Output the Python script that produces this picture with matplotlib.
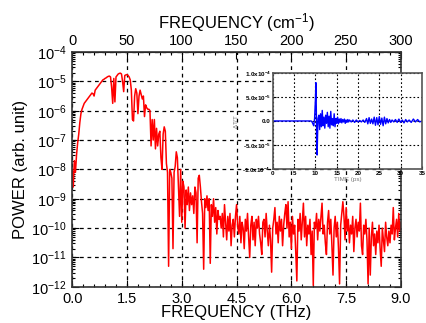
import numpy as np
import matplotlib
matplotlib.use("Agg")
import matplotlib.pyplot as plt
from matplotlib.ticker import MultipleLocator, LogLocator, NullFormatter, FixedLocator

plt.rcParams['font.family'] = ['Liberation Sans', 'DejaVu Sans']
plt.rcParams['mathtext.default'] = 'regular'

# power spectrum, log10 of power, sampled every 0.03 THz from 0 to 9 THz
freq_step = 0.03
log_power = [
    -8.0, -8.6, -7.7, -8.1, -7.5, -7.1, -6.8, -6.4, -6.1, -5.95,
    -5.85, -5.75, -5.7, -5.65, -5.6, -5.55, -5.5, -5.45, -5.4, -5.42,
    -5.5, -5.3, -5.25, -5.2, -5.15, -5.1, -5.05, -5.0, -4.95, -4.93,
    -4.9, -4.88, -4.85, -4.83, -4.82, -4.85, -5.2, -5.75, -4.9, -5.7,
    -4.85, -4.8, -4.75, -4.73, -4.72, -4.75, -5.0, -5.35, -4.8, -4.78,
    -4.77, -4.8, -4.85, -4.95, -5.3, -6.3, -6.35, -5.5, -5.25, -5.4,
    -6.1, -5.5, -5.3, -5.45, -5.6, -5.5, -6.2, -5.8, -5.9, -5.95,
    -5.95, -6.0, -7.2, -6.3, -7.0, -6.3, -7.3, -6.6, -7.2, -6.8,
    -6.7, -7.6, -8.0, -6.8, -6.55, -6.7, -7.8, -8.1, -11.3, -8.0,
    -8.1, -8.3, -10.7, -8.1, -7.9, -7.4, -7.6, -8.6, -9.6, -8.0,
    -9.8, -8.4, -8.6, -10.0, -8.7, -9.2, -8.6, -9.4, -8.8, -9.2,
    -8.9, -9.5, -8.6, -8.8, -10.5, -8.3, -8.2, -8.6, -9.1, -9.5,
    -11.4, -9.0, -9.3, -8.9, -9.4, -9.0, -11.2, -9.2, -9.6, -9.0,
    -9.8, -9.3, -10.2, -9.4, -9.7, -9.6, -10.0, -9.5, -10.3, -9.2,
    -9.8, -10.4, -9.6, -10.1, -9.5, -10.6, -9.9, -9.7, -10.3, -9.6,
    -9.2, -9.9, -10.2, -9.6, -10.5, -9.8, -10.0, -10.7, -9.7, -10.1,
    -9.5, -10.3, -11.0, -9.9, -9.6, -10.4, -9.8, -10.6, -9.7, -10.0,
    -9.6, -10.2, -10.5, -10.9, -9.8, -9.7, -10.3, -9.5, -10.1, -10.6,
    -9.9, -10.4, -11.5, -10.0, -9.7, -9.3, -10.2, -9.8, -10.5, -9.6,
    -10.1, -9.7, -10.6, -9.9, -9.5, -9.2, -10.0, -9.1, -10.3, -9.8,
    -10.7, -9.6, -10.2, -9.9, -10.8, -11.8, -9.7, -10.1, -9.5, -10.4,
    -9.8, -9.15, -10.3, -9.6, -10.6, -9.9, -10.2, -9.7, -10.9, -10.1,
    -11.95, -9.8, -10.0, -9.5, -10.4, -9.7, -10.1, -9.6, -9.15, -10.2,
    -9.9, -10.5, -10.9, -9.8, -9.4, -10.2, -9.7, -10.6, -11.6, -10.0,
    -9.6, -10.3, -9.8, -10.7, -11.9, -9.9, -9.5, -9.1, -9.6, -10.4,
    -9.3, -10.1, -9.7, -10.5, -9.9, -10.2, -9.6, -10.8, -10.0, -9.7,
    -10.3, -9.8, -10.1, -9.15, -10.6, -10.9, -9.9, -10.2, -9.7, -10.4,
    -11.9, -10.0, -11.6, -10.3, -9.8, -10.6, -10.2, -10.9, -10.1, -10.5,
    -9.9, -10.7, -11.3, -10.0, -10.4, -10.8, -9.8, -10.3, -10.6, -10.1,
    -10.5, -9.9, -10.2, -9.3, -10.4, -10.0, -9.7, -10.3, -9.5, -10.1,
    -9.8,
]

# time-domain trace for the inset (ps, dT/T in units of 1e-4)
time_ps = [0.0, 8.8, 9.0, 9.2, 9.4, 9.6, 9.8, 10.0, 10.1, 10.2, 10.3, 10.4, 10.5,
           10.6, 10.8, 11.0, 11.2, 11.4, 11.6, 11.8, 12.0, 12.2, 12.4, 12.6, 12.8,
           13.0, 13.2, 13.4, 13.6, 13.8, 14.0, 14.2, 14.4, 14.6, 14.8, 15.0, 15.2,
           15.4, 15.6, 15.8, 16.0, 16.2, 16.4, 16.6, 16.8, 17.0, 17.2, 17.4, 17.6,
           17.8, 18.0, 18.4, 18.8, 19.2, 19.6, 20.0, 20.4, 20.8, 21.2, 21.6, 22.0,
           22.3, 22.6, 22.9, 23.2, 23.5, 23.8, 24.1, 24.4, 24.7, 25.0, 25.3, 25.6,
           25.9, 26.2, 26.5, 26.8, 27.1, 27.4, 27.7, 28.0, 28.4, 28.8, 29.2, 29.6,
           30.0, 30.4, 30.8, 31.2, 31.6, 32.0, 32.5, 33.0, 33.5, 34.0, 34.5, 35.0]
dT = [0.0, 0.0, 0.0, -0.02, -0.06, -0.1, 0.05, 0.45, 0.80, 0.3, -0.4, -0.71, -0.3,
      0.05, 0.12, -0.18, 0.15, -0.12, 0.22, -0.1, 0.08, -0.15, 0.12, -0.05, 0.18,
      -0.12, 0.1, -0.15, 0.2, -0.08, 0.05, -0.1, 0.15, -0.12, 0.05, -0.05, 0.08,
      -0.06, 0.04, -0.03, 0.05, -0.04, 0.03, -0.02, 0.04, -0.05, 0.02, -0.03, 0.03,
      -0.02, 0.02, -0.02, 0.02, -0.03, 0.02, -0.02, 0.01, -0.02, 0.02, -0.03, 0.05,
      -0.06, 0.07, -0.05, 0.04, -0.06, 0.08, -0.09, 0.07, -0.08, 0.09, -0.07, 0.06,
      -0.1, 0.08, -0.06, 0.05, -0.04, 0.03, -0.03, 0.02, -0.02, 0.03, -0.03, 0.04,
      -0.03, 0.02, -0.04, 0.03, -0.02, 0.02, -0.03, 0.04, -0.02, 0.03, -0.02, 0.0]

power_ticks = [1e-12, 1e-11, 1e-10, 1e-9, 1e-8, 1e-7, 1e-6, 1e-5, 1e-4]
power_ticklabels = [r'10$^{-12}$', r'10$^{-11}$', r'10$^{-10}$', r'10$^{-9}$',
                    r'10$^{-8}$', r'10$^{-7}$', r'10$^{-6}$', r'10$^{-5}$', r'10$^{-4}$']
inset_yticks = [-1.0, -0.5, 0.0, 0.5, 1.0]
inset_ylabels = [r'-1.0x10$^{-4}$', r'-5.0x10$^{-5}$', '0.0',
                 r'5.0x10$^{-5}$', r'1.0x10$^{-4}$']

THZ_TO_CM = 33.356

freq = np.arange(len(log_power)) * freq_step
power = 10.0 ** np.array(log_power)

fig = plt.figure(figsize=(4.27, 3.23), dpi=100)
ax = fig.add_axes([0.169, 0.112, 0.770, 0.727])

ax.plot(freq, power, color='red', lw=1.1)
ax.set_yscale('log')
ax.set_xlim(0, 9)
ax.set_ylim(1e-12, 1e-4)
ax.set_xticks([0.0, 1.5, 3.0, 4.5, 6.0, 7.5, 9.0])
ax.set_xticklabels(['0.0', '1.5', '3.0', '4.5', '6.0', '7.5', '9.0'])
ax.xaxis.set_minor_locator(MultipleLocator(0.3))
ax.set_yticks(power_ticks)
ax.set_yticklabels(power_ticklabels)
ax.yaxis.set_minor_locator(LogLocator(base=10, subs=np.arange(2, 10), numticks=20))
ax.yaxis.set_minor_formatter(NullFormatter())
ax.set_ylim(1e-12, 1e-4)
ax.tick_params(which='both', direction='in', right=True, labelsize=10.5, width=0.8)
ax.tick_params(which='major', length=5, pad=4)
ax.tick_params(which='minor', length=2.5)
ax.grid(True, which='major', color='black', linestyle=(0, (3, 3)), lw=0.9)
for s in ax.spines.values():
    s.set_linewidth(1.2)
    s.set_color('#333333')
ax.set_xlabel('FREQUENCY (THz)', fontsize=12, labelpad=-1)
ax.set_ylabel('POWER (arb. unit)', fontsize=12, labelpad=2)

top = ax.secondary_xaxis('top', functions=(lambda x: x * THZ_TO_CM, lambda x: x / THZ_TO_CM))
top.xaxis.set_major_locator(FixedLocator([0, 50, 100, 150, 200, 250, 300]))
top.xaxis.set_minor_locator(MultipleLocator(10))
top.tick_params(which='both', direction='in', labelsize=10.5, width=0.8)
top.tick_params(which='major', length=5, pad=3)
top.tick_params(which='minor', length=2.5)
top.set_xlabel(r'FREQUENCY (cm$^{-1}$)', fontsize=12, labelpad=4)

# inset with time-domain trace
ins = fig.add_axes([0.639, 0.477, 0.349, 0.297])
ins.plot(time_ps, dT, color='blue', lw=1.0)
ins.set_xlim(0, 35)
ins.set_ylim(-1, 1)
ins.set_xticks([0, 5, 10, 15, 20, 25, 30, 35])
ins.set_yticks(inset_yticks)
ins.set_yticklabels(inset_ylabels)
ins.tick_params(labelsize=4.5, length=2, direction='in', pad=1.5)
for lab in ins.get_xticklabels() + ins.get_yticklabels():
    lab.set_fontweight('bold')
ins.grid(True, color='black', linestyle=(0, (1.5, 2)), lw=0.8)
for s in ins.spines.values():
    s.set_linewidth(1.2)
    s.set_color('#555555')
ins.set_xlabel('TIME (ps)', fontsize=4.5, color='#777777', labelpad=1)
ins.set_ylabel(r'$\Delta$T/T', fontsize=4.5, color='#777777', labelpad=2)

fig.savefig('out.png', dpi=100)
